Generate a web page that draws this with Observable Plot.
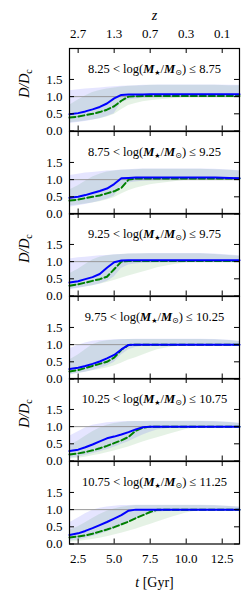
<!DOCTYPE html>
<html><head><meta charset="utf-8">
<script src="https://cdn.jsdelivr.net/npm/d3@7"></script>
<script src="https://cdn.jsdelivr.net/npm/@observablehq/plot@0.6"></script>
<style>
body{margin:0;background:#fff}
#chart svg{display:block;overflow:visible;background:none}
#chart svg, #chart svg text{font-family:'Liberation Serif',serif}
</style>
</head><body><div id="chart"></div>
<script>
// cosmic time grid [Gyr]
const tGrid = [1.9, 2.5, 3, 3.5, 4, 4.5, 5, 5.5, 6, 6.5, 7, 7.5, 8, 9, 10, 11, 12, 13, 13.7];
const binEdges = ["8.25","8.75","9.25","9.75","10.25","10.75","11.25"];
const tTicks = [2.5, 5, 7.5, 10, 12.5];
const zTickLabels = ["2.7","1.3","0.7","0.3","0.1"];
const yTicks = [0, 0.5, 1, 1.5];

// median D/Dc, solid blue
const blueMedian = [
  [0.49,0.52,0.57,0.63,0.70,0.80,0.95,1.05,1.06,1.06,1.06,1.07,1.07,1.07,1.07,1.07,1.07,1.07,1.07],
  [0.47,0.50,0.55,0.61,0.67,0.74,0.87,1.04,1.05,1.06,1.06,1.06,1.06,1.06,1.06,1.06,1.06,1.05,1.04],
  [0.39,0.43,0.49,0.55,0.64,0.82,0.98,1.03,1.04,1.04,1.04,1.04,1.04,1.04,1.04,1.04,1.04,1.04,1.04],
  [0.29,0.33,0.38,0.44,0.51,0.60,0.70,0.86,0.99,1.00,1.00,1.00,1.00,1.00,1.00,1.00,1.00,1.00,1.00],
  [0.29,0.33,0.40,0.48,0.57,0.66,0.71,0.77,0.84,0.92,0.98,1.00,1.00,1.00,1.00,1.00,1.00,1.00,1.00],
  [0.26,0.31,0.38,0.46,0.55,0.64,0.74,0.84,0.97,1.00,1.00,1.00,1.00,1.00,1.00,1.00,1.00,1.00,1.00]
];
// median D/Dc, dashed green
const greenMedian = [
  [0.39,0.42,0.46,0.50,0.55,0.62,0.72,0.88,1.00,1.01,1.02,1.02,1.02,1.02,1.02,1.02,1.02,1.02,1.02],
  [0.39,0.42,0.46,0.50,0.54,0.60,0.66,0.76,1.00,1.03,1.03,1.03,1.03,1.03,1.03,1.03,1.03,1.03,1.03],
  [0.30,0.34,0.39,0.44,0.49,0.56,0.78,1.00,1.02,1.02,1.02,1.02,1.02,1.02,1.02,1.02,1.02,1.02,1.02],
  [0.22,0.26,0.32,0.38,0.44,0.50,0.62,0.85,0.99,1.00,1.00,1.00,1.00,1.00,1.00,1.00,1.00,1.00,1.00],
  [0.19,0.22,0.26,0.31,0.37,0.44,0.52,0.60,0.70,0.88,0.97,1.00,1.00,1.00,1.00,1.00,1.00,1.00,1.00],
  [0.19,0.22,0.25,0.30,0.36,0.42,0.49,0.57,0.65,0.75,0.84,0.93,1.00,1.00,1.00,1.00,1.00,1.00,1.00]
];
// scatter bands
const blueLow = [
  [0.22,0.25,0.28,0.31,0.36,0.42,0.50,0.82,0.90,0.93,0.95,0.96,0.97,0.98,1.00,1.00,1.00,1.00,1.00],
  [0.20,0.24,0.28,0.32,0.37,0.43,0.52,0.80,0.90,0.93,0.95,0.96,0.97,0.98,1.00,1.00,1.00,1.00,1.00],
  [0.18,0.22,0.26,0.30,0.35,0.42,0.55,0.80,0.90,0.93,0.95,0.96,0.97,0.98,1.00,1.00,1.00,1.00,1.00],
  [0.12,0.16,0.20,0.25,0.31,0.38,0.48,0.70,0.85,0.92,0.95,0.97,0.98,0.99,1.00,1.00,1.00,1.00,1.00],
  [0.08,0.12,0.16,0.21,0.27,0.33,0.40,0.48,0.56,0.66,0.76,0.84,0.90,0.96,0.99,1.00,1.00,1.00,1.00],
  [0.08,0.12,0.16,0.22,0.28,0.35,0.43,0.52,0.62,0.72,0.80,0.87,0.92,0.97,0.99,1.00,1.00,1.00,1.00]
];
const blueHigh = [
  [1.17,1.20,1.22,1.24,1.25,1.27,1.29,1.30,1.31,1.32,1.33,1.33,1.34,1.34,1.34,1.34,1.34,1.33,1.33],
  [1.12,1.16,1.19,1.21,1.23,1.25,1.26,1.28,1.29,1.30,1.31,1.31,1.31,1.31,1.31,1.31,1.30,1.28,1.26],
  [1.08,1.11,1.13,1.15,1.17,1.18,1.20,1.21,1.22,1.23,1.23,1.24,1.24,1.24,1.24,1.24,1.22,1.19,1.17],
  [0.88,0.98,1.05,1.10,1.12,1.13,1.14,1.15,1.15,1.16,1.16,1.16,1.16,1.16,1.16,1.16,1.15,1.13,1.10],
  [0.72,0.85,0.96,1.04,1.08,1.11,1.13,1.14,1.15,1.15,1.15,1.16,1.16,1.16,1.16,1.16,1.15,1.13,1.10],
  [0.62,0.76,0.88,0.98,1.04,1.08,1.10,1.12,1.12,1.13,1.13,1.13,1.13,1.13,1.13,1.13,1.12,1.10,1.08]
];
const greenLow = [
  [0.24,0.26,0.29,0.32,0.36,0.41,0.48,0.62,0.74,0.80,0.85,0.88,0.90,0.94,0.98,1.00,1.00,1.00,1.00],
  [0.24,0.26,0.29,0.32,0.36,0.41,0.47,0.58,0.68,0.75,0.80,0.85,0.88,0.93,0.98,1.00,1.00,1.00,1.00],
  [0.20,0.23,0.26,0.30,0.34,0.39,0.45,0.52,0.58,0.64,0.70,0.76,0.82,0.90,0.97,1.00,1.00,1.00,1.00],
  [0.14,0.17,0.20,0.24,0.28,0.32,0.38,0.46,0.55,0.62,0.70,0.78,0.85,0.93,0.98,1.00,1.00,1.00,1.00],
  [0.06,0.08,0.11,0.15,0.19,0.24,0.29,0.35,0.41,0.48,0.55,0.62,0.68,0.80,0.92,0.99,1.00,1.00,1.00],
  [0.05,0.07,0.10,0.13,0.17,0.21,0.26,0.31,0.37,0.43,0.50,0.57,0.64,0.78,0.90,0.98,1.00,1.00,1.00]
];
const greenHigh = [
  [0.75,0.90,1.02,1.12,1.18,1.22,1.25,1.28,1.30,1.31,1.32,1.33,1.33,1.33,1.33,1.33,1.33,1.32,1.32],
  [0.70,0.82,0.95,1.08,1.16,1.22,1.25,1.27,1.28,1.29,1.30,1.30,1.30,1.30,1.30,1.30,1.29,1.27,1.25],
  [0.65,0.78,0.92,1.05,1.13,1.17,1.19,1.21,1.22,1.22,1.23,1.23,1.23,1.23,1.23,1.23,1.21,1.18,1.16],
  [0.55,0.70,0.85,1.00,1.08,1.11,1.13,1.14,1.15,1.15,1.15,1.15,1.15,1.15,1.15,1.15,1.14,1.12,1.09],
  [0.45,0.58,0.72,0.85,0.96,1.04,1.09,1.12,1.14,1.15,1.15,1.15,1.15,1.15,1.15,1.15,1.14,1.12,1.09],
  [0.40,0.50,0.62,0.74,0.86,0.95,1.02,1.07,1.10,1.12,1.12,1.12,1.12,1.12,1.12,1.12,1.11,1.09,1.07]
];

const panels = d3.range(6);
const rows = [];
for (const p of panels) tGrid.forEach((t, i) => rows.push({
  panel: p, t,
  blue: blueMedian[p][i], green: greenMedian[p][i],
  bLo: blueLow[p][i], bHi: blueHigh[p][i], gLo: greenLow[p][i], gHi: greenHigh[p][i]
}));

const W = 250, H = 605, mT = 48, mB = 62, mL = 69, mR = 11;
const panelH = (H - mT - mB) / panels.length;
const frameW = W - mL - mR;
const tickLen = 5;
const FONT = "'Liberation Serif', serif";

function panelPlot(p) {
  const isTop = p === 0, isBottom = p === panels.length - 1;
  const mt = isTop ? mT : 0, mb = isBottom ? mB : 0;
  const data = rows.filter(r => r.panel === p);
  const marks = [
    Plot.areaY(data, {x: "t", y1: "gLo", y2: "gHi", fill: "green", fillOpacity: 0.1}),
    Plot.areaY(data, {x: "t", y1: "bLo", y2: "bHi", fill: "blue", fillOpacity: 0.1}),
    Plot.ruleY([1], {stroke: "#999", strokeWidth: 1}),
    Plot.lineY(data, {x: "t", y: "green", stroke: "green", strokeWidth: 2, strokeDasharray: "6,3"}),
    Plot.lineY(data, {x: "t", y: "blue", stroke: "blue", strokeWidth: 2}),
    Plot.tickX(tTicks, {x: d => d, insetBottom: panelH - tickLen, stroke: "#000"}),
    Plot.tickX(tTicks, {x: d => d, insetTop: panelH - tickLen, stroke: "#000"}),
    Plot.tickY(yTicks, {y: d => d, insetRight: frameW - tickLen, stroke: "#000"}),
    Plot.tickY(yTicks, {y: d => d, insetLeft: frameW - tickLen, stroke: "#000"}),
    Plot.frame({stroke: "#000", strokeWidth: 1.2}),
    Plot.text([p], {text: d => `${binEdges[d]} < log(M★/M⊙) ≤ ${binEdges[d + 1]}`,
      frameAnchor: "top", dy: 20, lineAnchor: "middle", fontSize: 12.5, fontFamily: FONT}),
    Plot.axisY({ticks: yTicks, tickFormat: d3.format(".1f"), tickSize: 0, tickPadding: 7, label: null, fontSize: 13, fontFamily: FONT})
  ];
  if (p % 2 === 0) marks.push(Plot.text(["D/Dc"], {text: d => d, frameAnchor: "left", dx: -45, dy: 8,
      rotate: -90, lineAnchor: "middle", fontSize: 14, fontFamily: FONT}));
  if (isTop) marks.push(
    Plot.axisX({anchor: "top", ticks: tTicks, tickFormat: d => zTickLabels[tTicks.indexOf(d)], tickSize: 0, tickPadding: 11, label: null, fontSize: 13, fontFamily: FONT}),
    Plot.text(["z"], {text: d => d, frameAnchor: "top", dy: -33, lineAnchor: "middle", fontSize: 14, fontFamily: FONT}));
  if (isBottom) marks.push(
    Plot.axisX({anchor: "bottom", ticks: tTicks, tickFormat: d3.format(".1f"), tickSize: 0, tickPadding: 10, label: null, fontSize: 13, fontFamily: FONT}),
    Plot.text(["t [Gyr]"], {text: d => d, frameAnchor: "bottom", dy: 39, lineAnchor: "middle", fontSize: 14, fontFamily: FONT}));
  return Plot.plot({
    width: W, height: panelH + mt + mb,
    marginTop: mt, marginBottom: mb, marginLeft: mL, marginRight: mR,
    style: {fontFamily: FONT, fontSize: "13px", background: "none", color: "#000", overflow: "visible"},
    x: {domain: [1.9, 13.7], axis: (isTop || isBottom) ? undefined : null},
    y: {domain: [0, 2.4]},
    marks
  });
}

const root = document.getElementById("chart");
const NS = "http://www.w3.org/2000/svg";
function rich(el, parts) {
  el.textContent = "";
  for (const [s, o = {}] of parts) {
    const ts = document.createElementNS(NS, "tspan");
    ts.textContent = s;
    if (o.fw) ts.setAttribute("font-weight", o.fw);
    if (o.fs) ts.setAttribute("font-style", o.fs);
    if (o.size) ts.setAttribute("font-size", o.size);
    if (o.dy) ts.setAttribute("dy", o.dy);
    if (o.font) ts.setAttribute("style", `font-family:${o.font}`);
    el.appendChild(ts);
  }
}
for (const p of panels) {
  const svg = panelPlot(p);
  root.appendChild(svg);
  svg.querySelectorAll("text").forEach(el => {
    const s = el.textContent;
    if (s.includes("log(")) {
      const m = s.match(/^(\S+) < log\(M★\/M⊙\) ≤ (\S+)$/);
      rich(el, [
        [m[1] + " < log("],
        ["M", {fw: "bold", fs: "italic"}],
        ["★", {size: 7, dy: 2.5, font: "'DejaVu Sans'"}],
        ["/", {dy: -2.5}],
        ["M", {fw: "bold", fs: "italic"}],
        ["⊙", {size: 8, dy: 2.5, font: "'DejaVu Sans'"}],
        [")", {dy: -2.5}],
        [" ≤ " + m[2]]
      ]);
    } else if (s === "D/Dc") {
      rich(el, [["D/D", {fs: "italic"}], ["c", {size: 10, dy: 3}]]);
    } else if (s === "t [Gyr]") {
      rich(el, [["t", {fs: "italic"}], [" [Gyr]"]]);
    } else if (s === "z") {
      rich(el, [["z", {fs: "italic"}]]);
    }
  });
}
</script>
</body></html>
